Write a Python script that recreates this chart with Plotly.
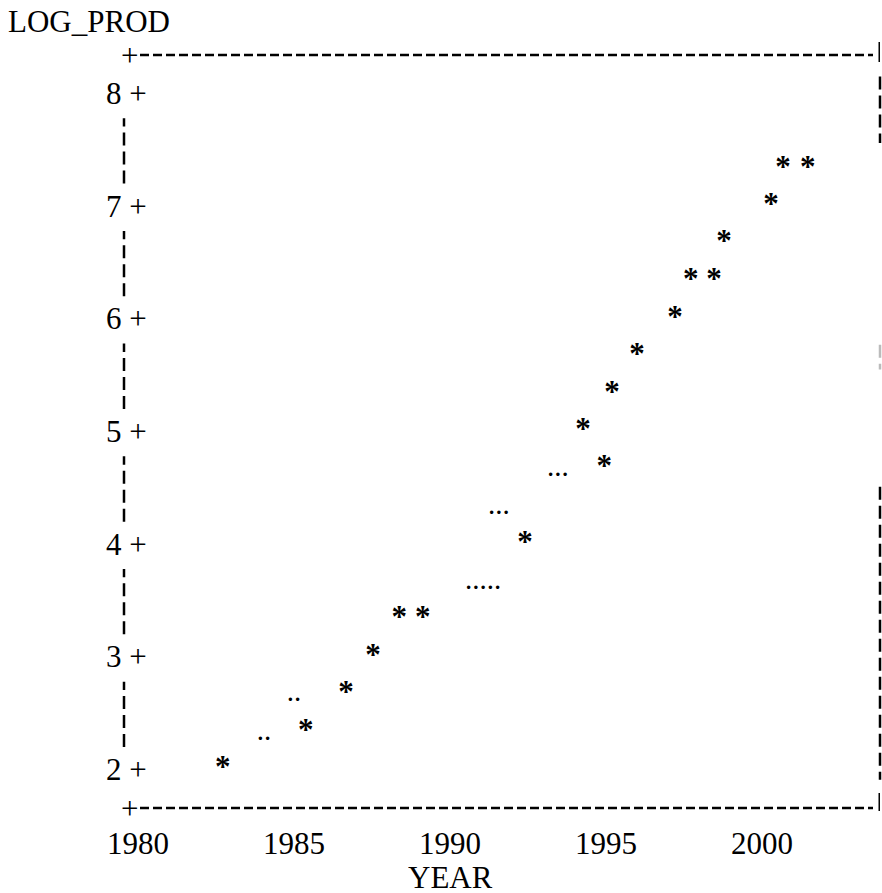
import plotly.graph_objects as go

# ---- data ----
years_star = [1982.72, 1985.38, 1986.67, 1987.53, 1988.37, 1989.13, 1992.40,
              1994.26, 1994.94, 1995.19, 1995.99, 1997.21, 1997.72, 1998.46,
              1998.78, 2000.29, 2000.67, 2001.47]
log_prod_star = [2.0, 2.33, 2.67, 3.0, 3.33, 3.33, 4.0,
                 5.0, 4.67, 5.33, 5.67, 6.0, 6.33, 6.33,
                 6.67, 7.0, 7.33, 7.33]
years_dots = [1984.04, 1985.0, 1991.06, 1991.57, 1993.46]
log_prod_dots = [2.33, 2.67, 3.67, 4.33, 4.67]
dot_labels = ["..", "..", ".....", "...", "..."]
x_ticks = [1980, 1985, 1990, 1995, 2000]
y_ticks = [2, 3, 4, 5, 6, 7, 8]

FONT = "Liberation Serif, Times New Roman, serif"
FS = 31
BLACK = "#000000"

fig = go.Figure()
fig.add_trace(go.Scatter(
    x=years_star, y=log_prod_star, mode="text", text=["*"] * len(years_star),
    textposition="middle center",
    textfont=dict(family=FONT, size=FS, color=BLACK, weight="bold"),
    hoverinfo="x+y", showlegend=False))
fig.add_trace(go.Scatter(
    x=years_dots, y=log_prod_dots, mode="text", text=dot_labels,
    textposition="middle center",
    textfont=dict(family=FONT, size=FS - 2, color=BLACK),
    hoverinfo="x+y", showlegend=False))

W, H = 882, 893
L, R, T, B = 124, 2, 55, 85
PW = W - L - R
PH = H - T - B

def px_x(px):
    return (px - L) / PW

shapes = []
line_h = dict(color=BLACK, width=2.5, dash="9px,4px")
line_v = dict(color=BLACK, width=2.5, dash="13px,6px")
# top and bottom borders
for yp in (0, 1):
    shapes.append(dict(type="line", xref="paper", yref="paper",
                       x0=px_x(140), x1=px_x(873), y0=yp, y1=yp, line=line_h))
# left border pieces between tick rows
for v in y_ticks[:-1]:
    shapes.append(dict(type="line", xref="paper", yref="y",
                       x0=0, x1=0, y0=v + 0.2, y1=v + 0.78, line=line_v))
# right border pieces (partly lost in the scan)
for (a, b, c) in [(8.15, 7.56, BLACK), (5.77, 5.55, "#bbbbbb"), (4.51, 1.91, BLACK)]:
    shapes.append(dict(type="line", xref="paper", yref="y",
                       x0=1, x1=1, y0=a, y1=b,
                       line=dict(color=c, width=2.5, dash="13px,6px")))
# small corner ticks on the right
shapes.append(dict(type="line", xref="paper", yref="paper", x0=0.999, x1=0.999,
                   y0=1 + 13 / PH, y1=1 - 7 / PH, line=dict(color=BLACK, width=1.5)))
shapes.append(dict(type="line", xref="paper", yref="paper", x0=0.999, x1=0.999,
                   y0=15 / PH, y1=-3 / PH, line=dict(color=BLACK, width=1.5)))

annotations = []
for v in y_ticks:
    annotations.append(dict(x=0, xref="paper", y=v, yref="y", text=f"{v} +",
                            showarrow=False, xanchor="right", yanchor="middle",
                            xshift=25, font=dict(family=FONT, size=FS, color=BLACK)))
for yp in (0, 1):
    annotations.append(dict(x=px_x(129), xref="paper", y=yp, yref="paper", text="+",
                            showarrow=False, xanchor="center", yanchor="middle",
                            font=dict(family=FONT, size=FS, color=BLACK)))
annotations.append(dict(x=0, xref="paper", y=1, yref="paper", text="LOG_PROD",
                        showarrow=False, xanchor="left", yanchor="middle",
                        xshift=-118, yshift=34,
                        font=dict(family=FONT, size=FS, color=BLACK)))
annotations.append(dict(x=px_x(450), xref="paper", y=0, yref="paper", text="YEAR",
                        showarrow=False, xanchor="center", yanchor="middle",
                        height=26, valign="middle",
                        yshift=-69, font=dict(family=FONT, size=FS, color=BLACK)))

fig.update_layout(
    width=W, height=H,
    margin=dict(l=L, r=R, t=T, b=B, pad=0),
    paper_bgcolor="white", plot_bgcolor="white",
    shapes=shapes, annotations=annotations,
    xaxis=dict(range=[1979.551, 2003.782], tickvals=x_ticks,
               ticktext=[str(t) for t in x_ticks], ticks="", showgrid=False,
               zeroline=False, showline=False, ticklabelstandoff=14,
               tickfont=dict(family=FONT, size=FS, color=BLACK)),
    yaxis=dict(range=[1.659, 8.341], showticklabels=False, ticks="",
               showgrid=False, zeroline=False, showline=False),
)

fig.write_html("out.html", config={"displayModeBar": False},
               post_script="document.body.style.margin='0px';")
